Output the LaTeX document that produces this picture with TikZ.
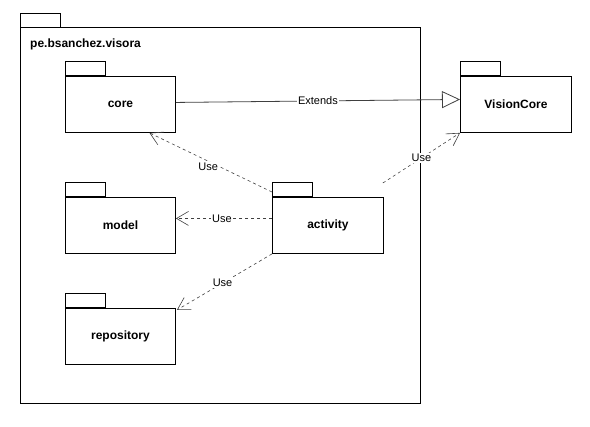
\documentclass[tikz,border=0pt]{standalone}
\usepackage{fontspec}
\setmainfont{Liberation Sans}
\usetikzlibrary{arrows.meta,calc}
\begin{document}
\begin{tikzpicture}[x=1pt,y=-1pt,
  pkg/.style={draw=black,line width=0.9pt,fill=white,minimum width=110pt,minimum height=56pt,inner sep=0pt,font=\bfseries\fontsize{12}{14}\selectfont},
  tabbox/.style={draw=black,line width=0.9pt,fill=white,minimum width=40pt,minimum height=14pt,inner sep=0pt},
  usearrow/.style={draw=black!75,line width=0.6pt,dash pattern=on 3pt off 3pt,-{Straight Barb[length=12pt,width=14pt,line width=0.6pt]}},
  extarrow/.style={draw=black!75,line width=0.8pt,-{Triangle[open,length=18pt,width=17pt,line width=0.8pt,fill=white]}},
  lbl/.style={fill=white,inner sep=1pt,font=\fontsize{11}{13}\selectfont,text=black}
]
\useasboundingbox (0,0) rectangle (590,427);
% outer package
\node[tabbox,anchor=north west] (outertab) at (20,13) {};
\node[draw=black,line width=0.9pt,minimum width=400pt,minimum height=376pt,inner sep=0pt,anchor=north west] (outer) at (20,27) {};
\node[anchor=west,font=\bfseries\fontsize{12}{14}\selectfont,inner sep=0pt] (outerlbl) at (30,44) {pe.bsanchez.visora};
% packages
\node[pkg,anchor=north west] (core) at (65,76) {core};
\node[tabbox,anchor=south west] (coretab) at (core.north west) {};
\node[pkg,anchor=north west] (model) at (65,197) {model};
\node[tabbox,anchor=south west] (modeltab) at (model.north west) {};
\node[pkg,anchor=north west] (repository) at (65,308) {repository};
\node[tabbox,anchor=south west] (repositorytab) at (repository.north west) {};
\node[pkg,anchor=north west,minimum width=111pt] (activity) at (272,197) {activity};
\node[tabbox,anchor=south west] (activitytab) at (activity.north west) {};
\node[pkg,anchor=north west,minimum width=111pt] (visioncore) at (460,76) {VisionCore};
\node[tabbox,anchor=south west] (visioncoretab) at (visioncore.north west) {};
% connectors
\draw[extarrow] ($(core.east)+(0,-2)$) -- node[lbl,pos=0.5] {Extends} ($(visioncore.west)+(0,-5)$);
\draw[usearrow] ($(activity.north west)+(0,-5)$) -- node[lbl,pos=0.52,yshift=-6pt] {Use} ($(core.south)+(29,0)$);
\draw[usearrow] ($(activity.west)+(0,-7)$) -- node[lbl,pos=0.52] {Use} ($(model.east)+(0,-7)$);
\draw[usearrow] (activity.south west) -- node[lbl,pos=0.52] {Use} ($(repository.north east)+(1,2)$);
\draw[usearrow] ($(activity.north east)+(-1,-14)$) -- node[lbl,pos=0.5] {Use} (visioncore.south west);
\end{tikzpicture}
\end{document}
